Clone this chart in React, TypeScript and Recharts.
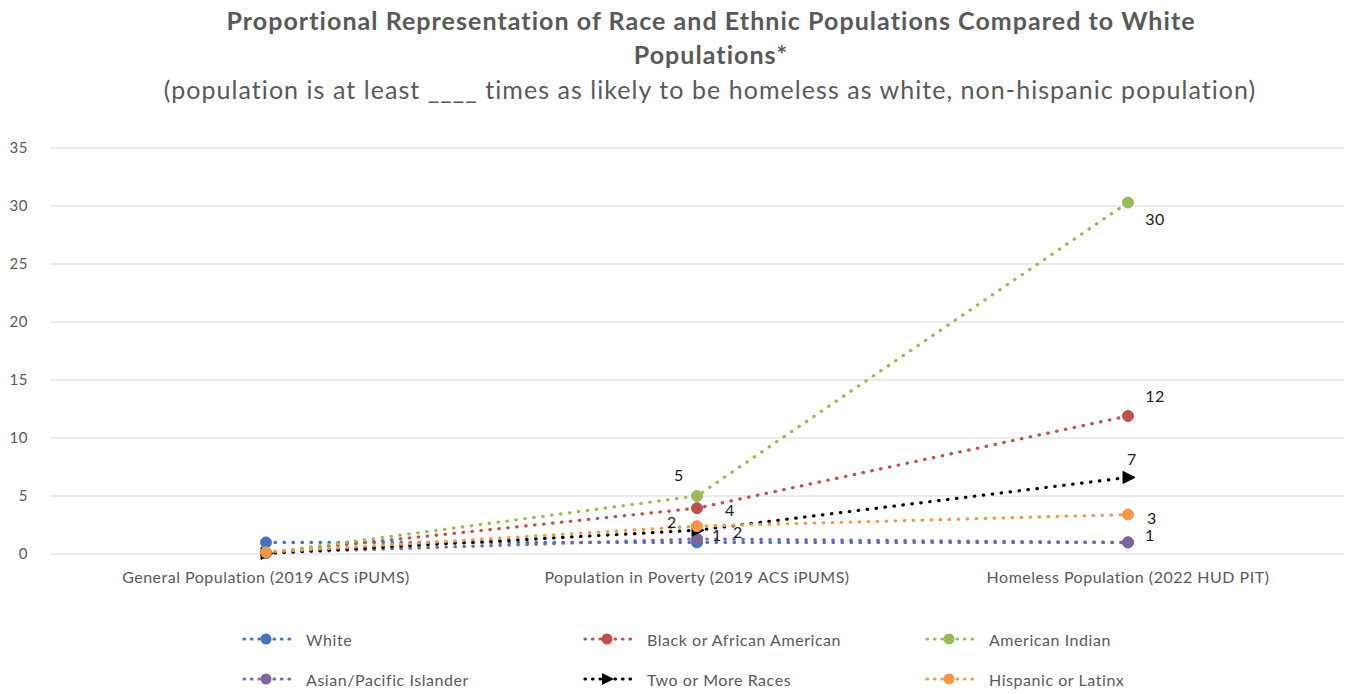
import React from 'react';
import { LineChart, Line, XAxis, YAxis, CartesianGrid, LabelList } from 'recharts';

const categories = [
  'General Population (2019 ACS iPUMS)',
  'Population in Poverty (2019 ACS iPUMS)',
  'Homeless Population (2022 HUD PIT)',
];
const white = [1, 1, 1];
const black = [0.1, 3.95, 11.9];
const americanIndian = [0.1, 5.0, 30.3];
const asianPacific = [0.1, 1.3, 1.0];
const twoOrMore = [0.05, 2.05, 6.6];
const hispanic = [0.15, 2.4, 3.4];
const yTicks = [0, 5, 10, 15, 20, 25, 30, 35];

const seriesDefs = [
  { key: 'white', name: 'White', values: white, color: '#4472C4', marker: 'circle' },
  { key: 'black', name: 'Black or African American', values: black, color: '#C0504D', marker: 'circle' },
  { key: 'ai', name: 'American Indian', values: americanIndian, color: '#9BBB59', marker: 'circle' },
  { key: 'asian', name: 'Asian/Pacific Islander', values: asianPacific, color: '#8064A2', marker: 'circle' },
  { key: 'two', name: 'Two or More Races', values: twoOrMore, color: '#000000', marker: 'triangle' },
  { key: 'hisp', name: 'Hispanic or Latinx', values: hispanic, color: '#F79646', marker: 'circle' },
];

const data = categories.map((c, i) => {
  const row: any = { category: c };
  seriesDefs.forEach((s) => (row[s.key] = s.values[i]));
  return row;
});

// label offsets per series per category index (styling only)
const labelOffsets: Record<string, Record<number, [number, number]>> = {
  ai: { 1: [-18, -22], 2: [27, 16] },
  black: { 1: [33, 1], 2: [27, -20] },
  hisp: { 1: [-25, -5], 2: [24, 3] },
  asian: { 1: [20, -4], 2: [22, -8] },
  two: { 1: [41, 1], 2: [4, -19] },
};

const FONT = "Lato, 'Open Sans', sans-serif";

const makeDot = (color: string, marker: string) => (props: any) => {
  const { cx, cy, index } = props;
  if (cx == null || cy == null) return <g key={index} />;
  if (marker === 'triangle') {
    return (
      <path
        key={index}
        d={`M${cx - 5},${cy - 6} L${cx + 7},${cy} L${cx - 5},${cy + 6} Z`}
        fill={color}
        stroke={color}
        strokeWidth={1}
      />
    );
  }
  return <circle key={index} cx={cx} cy={cy} r={5.5} fill={color} stroke={color} strokeWidth={1} />;
};

const makeLabel = (key: string) => (props: any) => {
  const { x, y, value, index } = props;
  const off = labelOffsets[key] && labelOffsets[key][index];
  if (!off) return null;
  return (
    <text
      x={x + off[0]}
      y={y + off[1]}
      textAnchor="middle"
      dominantBaseline="central"
      fontFamily={FONT}
      fontSize={16}
      letterSpacing={0.5}
      fill="#1a1a1a"
    >
      {Math.round(value)}
    </text>
  );
};

const LegendIcon = ({ color, marker }: { color: string; marker: string }) => (
  <svg width={64} height={16} style={{ display: 'block' }}>
    <line x1={2} y1={8} x2={48} y2={8} stroke={color} strokeWidth={3.2} strokeDasharray="0.5 7" strokeLinecap="round" />
    {marker === 'triangle' ? (
      <path d="M19,2 L31,8 L19,14 Z" fill={color} />
    ) : (
      <circle cx={24} cy={8} r={5.5} fill={color} />
    )}
  </svg>
);

const legendPos = [
  [242, 640],
  [583, 640],
  [925, 640],
  [242, 680],
  [583, 680],
  [925, 680],
];

export default function App() {
  return (
    <div style={{ position: 'absolute', left: 0, top: 0, width: 1346, height: 694, background: '#fff', fontFamily: FONT }}>
      <div style={{ position: 'absolute', left: 0, width: 1422, top: 3, textAlign: 'center', color: '#595959', fontWeight: 700, fontSize: 25, letterSpacing: 1.05, lineHeight: '34px' }}>
        Proportional Representation of Race and Ethnic Populations Compared to White
        <br />
        Populations*
      </div>
      <div style={{ position: 'absolute', left: 0, width: 1420, top: 72, textAlign: 'center', color: '#595959', fontSize: 25, letterSpacing: 1.05, lineHeight: '34px' }}>
        (population is at least ____ times as likely to be homeless as white, non-hispanic population)
      </div>
      <div style={{ position: 'absolute', left: 0, top: 0 }}>
        <LineChart width={1346} height={694} data={data} margin={{ top: 148, right: 2, bottom: 110, left: 0 }}>
          <CartesianGrid horizontal vertical={false} stroke="#d9d9d9" strokeWidth={1} />
          <XAxis
            dataKey="category"
            axisLine={false}
            tickLine={false}
            height={30}
            padding={{ left: 216, right: 216 }}
            tick={{ fill: '#595959', fontSize: 16, fontFamily: FONT, letterSpacing: 0.5 }}
            tickMargin={12}
            interval={0}
          />
          <YAxis
            domain={[0, 35]}
            ticks={yTicks}
            width={50}
            axisLine={false}
            tickLine={false}
            tick={{ fill: '#595959', fontSize: 15, fontFamily: FONT, letterSpacing: 0.5 }}
            tickMargin={16}
          />
          {seriesDefs.map((s) => (
            <Line
              key={s.key}
              dataKey={s.key}
              name={s.name}
              type="linear"
              stroke={s.color}
              strokeWidth={3.2}
              strokeDasharray="0.5 8.5"
              strokeLinecap="round"
              dot={makeDot(s.color, s.marker)}
              activeDot={false}
              isAnimationActive={false}
            >
              {labelOffsets[s.key] ? <LabelList dataKey={s.key} content={makeLabel(s.key)} /> : null}
            </Line>
          ))}
        </LineChart>
      </div>
      {seriesDefs.map((s, i) => (
        <div
          key={s.key}
          style={{ position: 'absolute', left: legendPos[i][0], top: legendPos[i][1] - 11, height: 20, display: 'flex', alignItems: 'center', gap: 0, color: '#595959', fontSize: 16, letterSpacing: 0.55 }}
        >
          <LegendIcon color={s.color} marker={s.marker} />
          <span>{s.name}</span>
        </div>
      ))}
    </div>
  );
}
